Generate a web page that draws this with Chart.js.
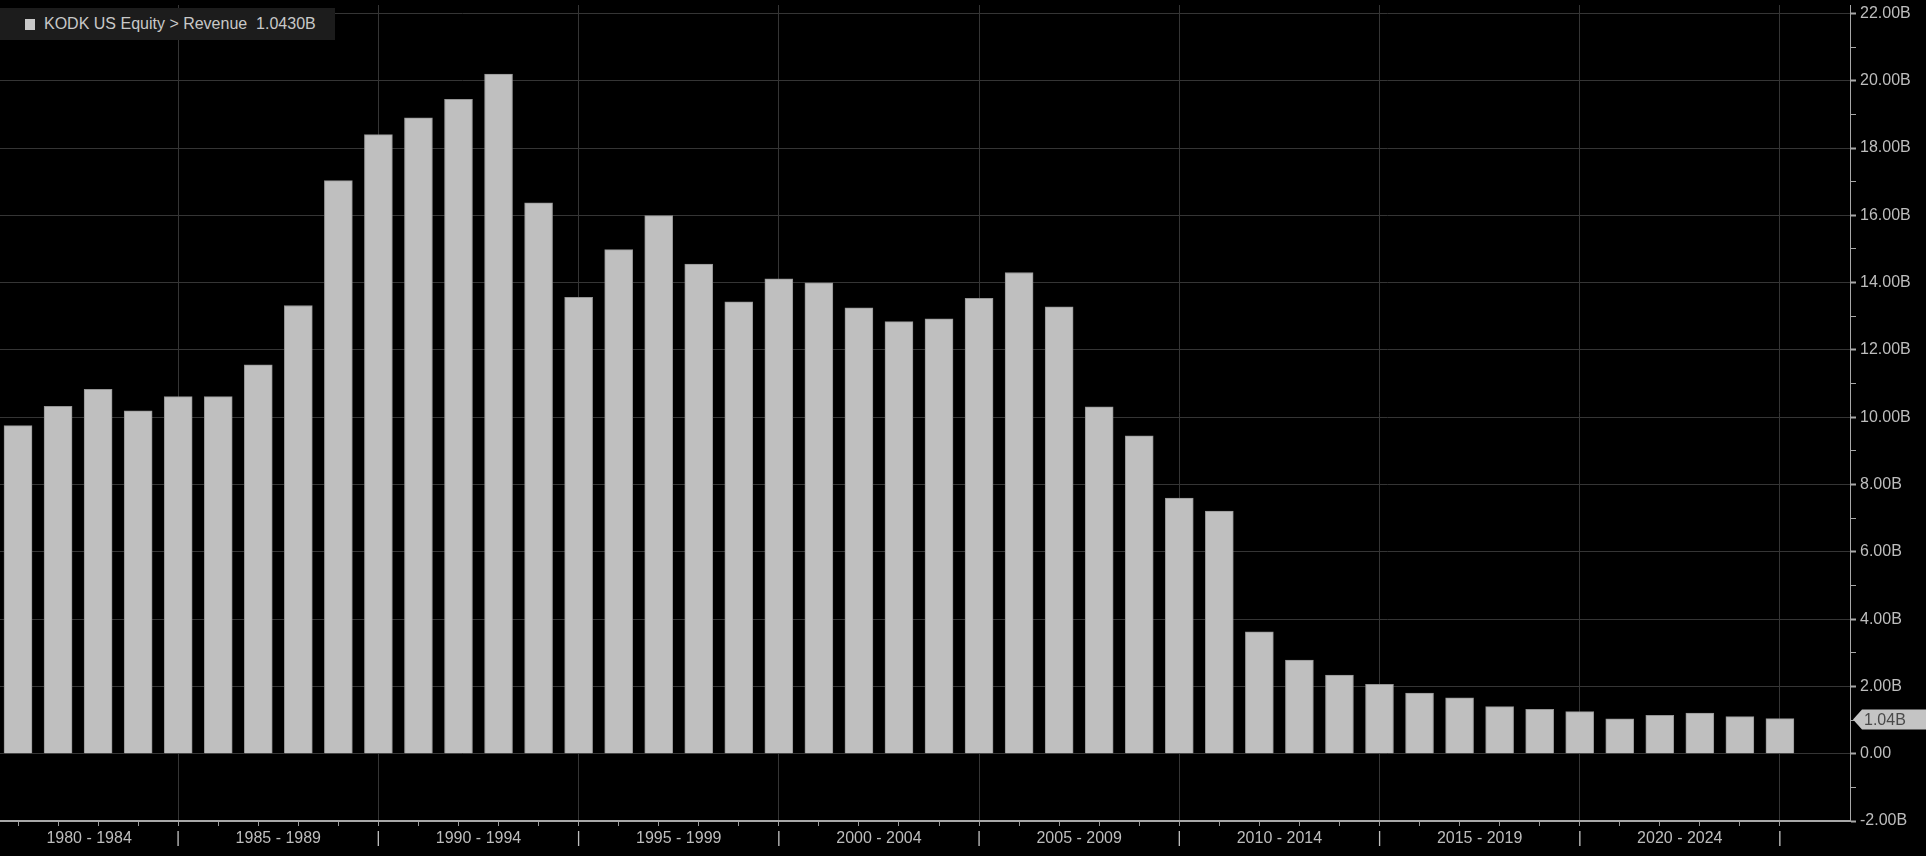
<!DOCTYPE html>
<html>
<head>
<meta charset="utf-8">
<script src="https://cdn.jsdelivr.net/npm/chart.js@4.4.1/dist/chart.umd.min.js"></script>
<style>
  html, body { margin: 0; padding: 0; background: #000; }
  #wrap { position: relative; width: 1926px; height: 856px; }
  #legend {
    position: absolute; left: 0; top: 8px; width: 335px; height: 32px;
    background: #1c1c1c; color: #c8c8c8; white-space: pre;
    font: 16px "Liberation Sans", Arial, sans-serif; line-height: 32px;
  }
  #legend .sw { position: absolute; left: 25px; top: 11px; width: 10px; height: 11px; background: #c8c8c8; }
  #legend .tx { position: absolute; left: 44px; top: 0; }
</style>
</head>
<body>
<div id="wrap">
  <canvas id="chart"></canvas>
  <div id="legend"><span class="sw"></span><span class="tx" id="legendText"></span></div>
</div>
<script>
// fiscal years and revenue (USD billions)
const years = [
  1980, 1981, 1982, 1983, 1984, 1985, 1986, 1987, 1988, 1989,
  1990, 1991, 1992, 1993, 1994, 1995, 1996, 1997, 1998, 1999,
  2000, 2001, 2002, 2003, 2004, 2005, 2006, 2007, 2008, 2009,
  2010, 2011, 2012, 2013, 2014, 2015, 2016, 2017, 2018, 2019,
  2020, 2021, 2022, 2023, 2024
];
const revenue = [
  9.75, 10.32, 10.83, 10.19, 10.61, 10.61, 11.56, 13.32, 17.03, 18.40,
  18.90, 19.45, 20.20, 16.37, 13.56, 14.98, 15.99, 14.55, 13.43, 14.11,
  13.99, 13.25, 12.84, 12.92, 13.53, 14.30, 13.28, 10.31, 9.45, 7.60,
  7.21, 3.62, 2.78, 2.34, 2.06, 1.80, 1.66, 1.40, 1.32, 1.25,
  1.04, 1.14, 1.21, 1.10, 1.043
];
const groupLabels = [
  '1980 - 1984', '1985 - 1989', '1990 - 1994', '1995 - 1999', '2000 - 2004',
  '2005 - 2009', '2010 - 2014', '2015 - 2019', '2020 - 2024'
];
const groupStarts = [1980, 1985, 1990, 1995, 2000, 2005, 2010, 2015, 2020];
const yTicks = [-2, -1, 0, 1, 2, 3, 4, 5, 6, 7, 8, 9, 10, 11, 12, 13, 14, 15, 16, 17, 18, 19, 20, 21, 22];

const xMin = 1980.55;
const xMax = 2026.75;
const FONT = '"Liberation Sans", Arial, sans-serif';

const last = revenue[revenue.length - 1];
document.getElementById('legendText').textContent = 'KODK US Equity > Revenue  ' + last.toFixed(4) + 'B';

// each bar sits at its fiscal year end
const points = years.map((y, i) => ({ x: y + 1, y: revenue[i] }));

// group label positions (centre of the visible part of each 5-year span)
const groupCentres = groupStarts.map(s => (Math.max(s, xMin) + Math.min(s + 5, xMax)) / 2);

function isYearTick(v) { return Math.abs(v - Math.round(v)) < 1e-6 && v >= 1981 && v <= 2025; }
function isMajor(v) { return isYearTick(v) && Math.round(v) % 5 === 0; }

const lastValueTag = {
  id: 'lastValueTag',
  afterDraw(chart) {
    const ys = chart.scales.y;
    const ctx = chart.ctx;
    const y = Math.round(ys.getPixelForValue(last)) + 0.5;
    const x0 = chart.chartArea.right + 3;
    ctx.save();
    ctx.fillStyle = '#c4c4c4';
    ctx.beginPath();
    ctx.moveTo(x0, y);
    ctx.lineTo(x0 + 9, y - 10);
    ctx.lineTo(1926, y - 10);
    ctx.lineTo(1926, y + 10);
    ctx.lineTo(x0 + 9, y + 10);
    ctx.closePath();
    ctx.fill();
    ctx.fillStyle = '#4a4a4a';
    ctx.font = '16px ' + FONT;
    ctx.textBaseline = 'middle';
    ctx.fillText(last.toFixed(2) + 'B', x0 + 11, y + 1);
    ctx.restore();
  }
};

new Chart(document.getElementById('chart').getContext('2d'), {
  type: 'bar',
  data: {
    datasets: [{
      label: 'Revenue',
      data: points,
      backgroundColor: '#bfbfbf',
      borderColor: '#959595',
      borderWidth: 1,
      barThickness: 28
    }]
  },
  options: {
    responsive: true,
    maintainAspectRatio: false,
    animation: false,
    devicePixelRatio: 1,
    layout: { padding: { top: 5, left: 0, right: 0, bottom: 0 } },
    plugins: { legend: { display: false }, tooltip: { enabled: false } },
    scales: {
      x: {
        type: 'linear',
        min: xMin,
        max: xMax,
        offset: false,
        afterBuildTicks: scale => {
          const t = [];
          for (let y = 1981; y <= 2025; y++) t.push({ value: y });
          groupCentres.forEach(c => t.push({ value: c }));
          t.sort((a, b) => a.value - b.value);
          scale.ticks = t;
        },
        afterFit: scale => { scale.height = 35; },
        ticks: {
          autoSkip: false,
          maxRotation: 0,
          minRotation: 0,
          padding: 3,
          color: '#bdbdbd',
          font: { family: FONT, size: 16 },
          callback: v => {
            if (isMajor(v)) return '|';
            if (isYearTick(v)) return '';
            const k = groupCentres.findIndex(c => Math.abs(c - v) < 1e-6);
            return k >= 0 ? groupLabels[k] : '';
          }
        },
        grid: {
          offset: false,
          drawTicks: true,
          tickLength: 5,
          color: c => (c.tick && isMajor(c.tick.value)) ? '#353535' : 'rgba(0,0,0,0)',
          tickColor: c => (c.tick && isYearTick(c.tick.value)) ? '#9a9a9a' : 'rgba(0,0,0,0)',
          lineWidth: 1
        },
        border: { display: true, color: '#a8a8a8', width: 2 }
      },
      y: {
        position: 'right',
        min: -2,
        max: 22.25,
        afterBuildTicks: scale => { scale.ticks = yTicks.map(v => ({ value: v })); },
        afterFit: scale => {
          scale.width = 76;
          scale.paddingTop = 0;
          scale.paddingBottom = 0;
        },
        ticks: {
          padding: 4,
          color: '#bdbdbd',
          font: { family: FONT, size: 16 },
          callback: v => {
            if (v % 2 !== 0) return '';
            return v === 0 ? '0.00' : v.toFixed(2) + 'B';
          }
        },
        grid: {
          tickLength: 6,
          color: c => (c.tick && c.tick.value % 2 === 0 && c.tick.value > -2) ? '#353535' : 'rgba(0,0,0,0)',
          tickColor: '#a8a8a8',
          tickWidth: c => (c.tick && c.tick.value % 2 === 0) ? 2 : 1,
          lineWidth: 1
        },
        border: { display: true, color: '#a8a8a8', width: 1 }
      }
    }
  },
  plugins: [lastValueTag]
});
</script>
</body>
</html>
